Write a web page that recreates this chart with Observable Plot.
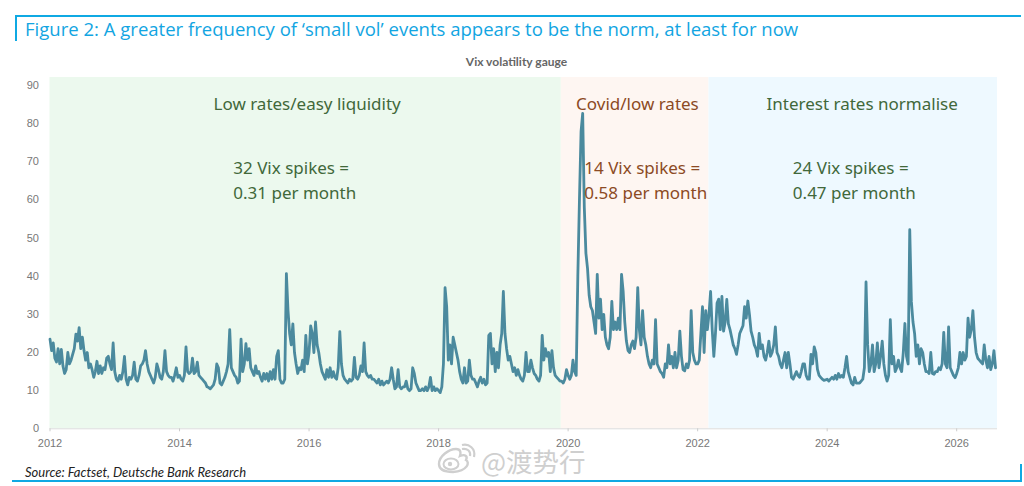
<!DOCTYPE html>
<html>
<head>
<meta charset="utf-8">
<script src="https://cdn.jsdelivr.net/npm/d3@7"></script>
<script src="https://cdn.jsdelivr.net/npm/@observablehq/plot@0.6"></script>
<style>
html,body{margin:0;padding:0;background:#fff;width:1024px;height:486px;overflow:hidden}
#wrap{position:relative;width:1024px;height:486px}
.abs{position:absolute;white-space:nowrap}
.rule{position:absolute;background:#0fa9e3}
#title{left:25px;top:16px;font:18.55px/26px "Open Sans",sans-serif;color:#12a5e2}
#sub{left:0;width:1033px;text-align:center;top:55px;font:700 12px/14px Lato,sans-serif;color:#666}
#src{left:25px;top:465px;font:italic 13px/14px Lato,sans-serif;color:#222}
#wm{left:481px;top:451px;font:26.5px/20px "Noto Sans CJK SC",sans-serif;color:#cfcfcf;text-shadow:0 0 2px #fff}
svg{position:absolute;left:0;top:0}
</style>
</head>
<body>
<div id="wrap">
<div id="chart"></div>
<div class="rule" style="left:14.5px;top:15px;width:1006px;height:2px"></div>
<div class="rule" style="left:14.5px;top:15px;width:2px;height:26px"></div>
<div class="rule" style="left:12px;top:480px;width:1010px;height:2px"></div>
<div class="rule" style="left:1020px;top:464px;width:2px;height:18px"></div>
<div class="abs" id="title">Figure 2: A greater frequency of ‘small vol’ events appears to be the norm, at least for now</div>
<div class="abs" id="sub">Vix volatility gauge</div>
<div class="abs" id="src">Source: Factset, Deutsche Bank Research</div>
<svg id="logo" width="40" height="30" viewBox="0 0 40 30" style="position:absolute;left:437px;top:444px;overflow:visible">
  <path d="M2 20 C2 12 12 5 19 5 C24 5 24 9 23 12 C28 10 31 12 29 16 C33 18 31 27 16 28 C7 28 2 25 2 20 Z" fill="#fff" stroke="#cfcfcf" stroke-width="2.4"/>
  <ellipse cx="14" cy="20" rx="7.5" ry="5.5" fill="none" stroke="#cfcfcf" stroke-width="2"/>
  <circle cx="13" cy="20" r="2.2" fill="#cfcfcf"/>
  <path d="M25 5 C30 4 34 7 33 12 M25 1 C32 -1 39 5 37 13" fill="none" stroke="#cfcfcf" stroke-width="2.2"/>
</svg>
<div class="abs" id="wm">@渡势行</div>
</div>
<script>
const vix2012=[23.5,20.5,22.5,18.5,17.5,21,17,20.8,16.5,14.5,15.5,20,17,18,19.5,21,24.8,23,26.5,21,24,20.5,18,20,16,17,15.5,13.5,15,17.7,14.5,16.5,14.5,16,15.5,18.5,19,17,15.5,22.5];
const vix2013=[15,13,12.5,14,13,15,19,13,11.5,13.5,13,14,17.5,13,12.5,14,16.5,17,18,20.5,17,15,14,13,12,13.5,17,15.5,13.5,13,15,20.5,15,14,13.5,13.5,12.5,14,16,13.5];
const vix2014=[14,13,12.5,14,21.5,15,14.5,15,18.5,14.5,15,17.5,14,13.5,13,12.5,12,11,10.8,10.5,11,11.5,13,17,16,12,11.5,12.5,13.5,15,17,26,16,15,14,13.5,12,12.5,23.5,15];
const vix2015=[17,22.3,18,21,16,15,14,16.5,14.5,15,13.5,12.5,14.5,13,14.5,12.5,15,13,15.5,13,19,20.5,13,12,12,13,40.7,31,25,22,27.5,20,17,14.5,16,15.5,18,15,24.5,17];
const vix2016=[20,27,25,20,28,22,20,17,15,14,13,15.5,13.5,16,13.5,15,13.5,13,16,25.5,17,14,13,12.5,12,13,12.5,13,18.7,13.5,13,14,16.5,15,22.5,15,14,13.5,14,13];
const vix2017=[13,12.5,12,13,11.5,12.5,11.5,12,12.5,12,13,16,13,10.5,11,15.5,11,10.5,11,11,12.5,10.5,10,10.5,16,14.5,12,11,10,10,10.5,10,11,10,11,13.5,10,11,10,10.5];
const vix2018=[10,9.5,11,17,37,32,18,22,17,24,22,20,18,15,13,12,16,12,12.5,18,14,13,13,12,11,12.5,13.5,12,13,11.5,12,24.5,25,17,21,15,20,16,22,25];
const vix2019=[36,25,21,18,19,17,15,16,14,15.5,14,13,12.5,14,20,15,15,18,16,14.5,14,13,12.5,14,24.5,18,21,19,20,15,20.5,16,14,13.5,13,12.5,12.5,12,13,15.5];
const vix2020=[14,13,14,18,15,14,40,60,78,82.7,58,46,42,35,32,31,28,25,40.5,29,34,26,30,24,22,21,24,33.4,26,28,26,29,26,40.5,36,28,23,20.5,20,22];
const vix2021=[23,21,24,37,26,22,31,24,22,19,17,16,18,17,28.6,17,16,15,14.5,13.5,17,16,22,17,19,16,20,16,18,25.6,19,15.5,15.2,17,16,18,31,20,18,17];
const vix2022=[17,18,25,32,20,31,26,30,36,26,19,25,33,34,26,34.7,25.6,28,33.9,27.5,26,24,22,21,19.5,22,25,26,27,32,29,33.5,30,25.6,24,22,21,19,25,21];
const vix2023=[22,19,18,20,23,19,20,22,26.7,20,19,17,16,18,20,16,20,17,13.5,13,14,15,14,13.5,15,17,17,14,13,13,19.5,17,21.5,20,15.6,14,13.5,13,12.7,12.8];
const vix2024=[13,12.5,13,13.5,13,14,13,14.5,13.5,14,13.5,16,19,15,13.5,12,11.5,13.5,12,12,12,12.5,13,16,38.5,22,15,17,22,15,17,22.5,16,19,23,17,14,12.5,14,28.6];
const vix2025=[17,19,15,16,18,16,15,20,27.6,19,17,52.2,33.4,28,25,19,22,17,21,20,17,15,15,14.5,20,14.5,14.3,15,15,16,15.5,17,25.3,17,16,26.7,16,15,14,13.4];
const vix2026=[14.5,16,20,17,20,18,19,29,24,26,31,24,20,18.5,18,17.5,17,22,18,16,19,15.5,17,20.5,16];

const years=[2012,2013,2014,2015,2016,2017,2018,2019,2020,2021,2022,2023,2024,2025,2026];
const yearSeries=[vix2012,vix2013,vix2014,vix2015,vix2016,vix2017,vix2018,vix2019,vix2020,vix2021,vix2022,vix2023,vix2024,vix2025,vix2026];
const series=years.flatMap((yr,k)=>yearSeries[k].map((v,i)=>({t:yr+i/40,v})));

const yTop=92.1;
const regimeStart=[2012,2019.895,2022.175];
const regimeEnd=[2019.895,2022.175,2026.63];
const regimeFill=["#ecf9ee","#fef6f2","#eef9ff"];
const regimes=regimeStart.map((s,i)=>({s,e:regimeEnd[i],f:regimeFill[i]}));

const headX=[2015.97,2021.07,2024.54];
const headY=[85.0,85.0,85.0];
const heads=["Low rates/easy liquidity","Covid/low rates","Interest rates normalise"];
const headCol=["#41683a","#8c4a24","#41683a"];
const noteX=[2014.83,2020.25,2023.47];
const noteY=[68.3,61.7];
const notes=[["32 Vix spikes =","0.31 per month"],["14 Vix spikes =","0.58 per month"],["24 Vix spikes =","0.47 per month"]];

const headData=heads.map((text,i)=>({text,x:headX[i],y:headY[i],c:headCol[i]}));
const noteData=notes.flatMap((p,i)=>p.map((text,j)=>({text,x:noteX[i],y:noteY[j],c:headCol[i]})));
const font="Noto Sans, sans-serif";

const plot=Plot.plot({
  width:1024,height:486,
  marginLeft:49.5,marginRight:27,marginTop:77,marginBottom:57.7,
  style:{background:"transparent",overflow:"visible"},
  x:{type:"linear",domain:[2012,2026.63]},
  y:{domain:[0,yTop]},
  marks:[
    Plot.rectY(regimes,{x1:"s",x2:"e",y1:0,y2:yTop,fill:"f"}),
    Plot.ruleY([0],{stroke:"#dcdcdc"}),
    Plot.axisX({ticks:[2012,2014,2016,2018,2020,2022,2024,2026],tickFormat:d=>String(d),label:null,tickSize:3,stroke:"#ccc",tickPadding:7,fontSize:11,fontFamily:"Liberation Sans, sans-serif",fill:"#777"}),
    Plot.axisY({ticks:[0,10,20,30,40,50,60,70,80,90],label:null,tickSize:0,tickPadding:11,fontSize:11,fontFamily:"Liberation Sans, sans-serif",fill:"#777"}),
    Plot.line(series,{x:"t",y:"v",stroke:"#4b8a9e",strokeWidth:2.8,strokeLinejoin:"round"}),
    Plot.text(headData,{x:"x",y:"y",text:"text",fill:"c",fontSize:17,fontFamily:font}),
    Plot.text(noteData,{x:"x",y:"y",text:"text",fill:"c",fontSize:17,fontFamily:font,textAnchor:"start"})
  ]
});
document.getElementById("chart").appendChild(plot);
</script>
</body>
</html>
